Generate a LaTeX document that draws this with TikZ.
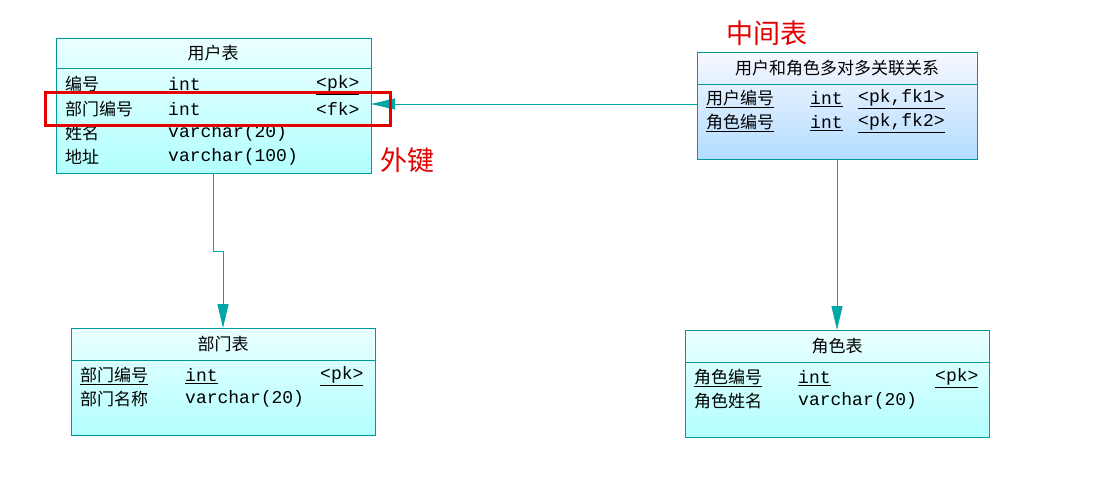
\documentclass[tikz,border=0pt]{standalone}
\usepackage{fontspec}
\newfontfamily\cjk{Noto Sans CJK SC}
\newfontfamily\lt{Liberation Mono}
\usetikzlibrary{arrows.meta}
\tikzset{
 tbl/.style={draw=teal!80!cyan, line width=0.6pt, top color=cyan!8, bottom color=cyan!30},
 tblb/.style={draw=teal!80!cyan, line width=0.6pt, top color=blue!3!white, bottom color=blue!45!cyan!30},
 sep/.style={draw=teal!80!cyan, line width=0.6pt},
 txt/.style={anchor=west, inner sep=0pt, font=\cjk\fontsize{17}{19}\selectfont},
 hdr/.style={inner sep=0pt, font=\cjk\fontsize{17}{19}\selectfont},
 conn/.style={draw=teal!70!cyan, line width=0.9pt},
 tip/.style={-{Triangle[length=24pt,width=11pt,fill=teal!70!cyan]}},
}
\newcommand{\ul}[1]{\underline{#1}}
\newcommand{\Lt}[1]{{\lt\fontsize{18}{19}\selectfont #1}}
\begin{document}
\begin{tikzpicture}[x=1pt,y=-1pt]
\useasboundingbox (0,0) rectangle (1119,495);
% user table
\path[tbl] (56,38) rectangle (371,173);
\draw[sep] (56,68) -- (371,68);
\node[hdr] (uh) at (213,53) {用户表};
\node[txt] (u1) at (65,85) {\ul{编号}}; \node[txt] at (168,85) {\ul{\Lt{int}}}; \node[txt] at (316,85) {\ul{\Lt{<pk>}}};
\node[txt] (u2) at (65,109) {部门编号}; \node[txt] at (168,109) {\Lt{int}}; \node[txt] at (316,109) {\Lt{<fk>}};
\node[txt] at (65,133) {姓名}; \node[txt] at (168,133) {\Lt{varchar(20)}};
\node[txt] at (65,157) {地址}; \node[txt] at (168,157) {\Lt{varchar(100)}};
\coordinate (uR) at (371,104);
\coordinate (uB) at (213,173);
% dept table
\path[tbl] (71,328) rectangle (375,435);
\draw[sep] (71,360) -- (375,360);
\node[hdr] (dh) at (223,344) {部门表};
\node[txt] at (80,376) {\ul{部门编号}}; \node[txt] at (185,376) {\ul{\Lt{int}}}; \node[txt] at (320,376) {\ul{\Lt{<pk>}}};
\node[txt] at (80,399) {部门名称}; \node[txt] at (185,399) {\Lt{varchar(20)}};
\coordinate (dT) at (223,328);
% middle table
\path[tblb] (697,52) rectangle (977,159);
\draw[sep] (697,84) -- (977,84);
\node[hdr] (mh) at (837,68) {用户和角色多对多关联关系};
\node[txt] at (706,99) {\ul{用户编号}}; \node[txt] at (810,99) {\ul{\Lt{int}}}; \node[txt] at (858,99) {\ul{\Lt{<pk,fk1>}}};
\node[txt] at (706,123) {\ul{角色编号}}; \node[txt] at (810,123) {\ul{\Lt{int}}}; \node[txt] at (858,123) {\ul{\Lt{<pk,fk2>}}};
\coordinate (mL) at (697,104);
\coordinate (mB) at (837,159);
% role table
\path[tbl] (685,330) rectangle (989,437);
\draw[sep] (685,362) -- (989,362);
\node[hdr] (rh) at (837,346) {角色表};
\node[txt] at (694,378) {\ul{角色编号}}; \node[txt] at (798,378) {\ul{\Lt{int}}}; \node[txt] at (935,378) {\ul{\Lt{<pk>}}};
\node[txt] at (694,401) {角色姓名}; \node[txt] at (798,401) {\Lt{varchar(20)}};
\coordinate (rT) at (837,330);
% connectors
\draw[conn,tip] (mL) -- (uR);
\draw[conn,tip] (uB) -- (213,251) -- (223,251) -- (dT);
\draw[conn,tip] (mB) -- (rT);
% annotations
\draw[red!90!black, line width=3pt] (45,92) rectangle (390,125);
\node[font=\cjk\fontsize{27}{29}\selectfont, text=red!90!black, inner sep=0pt] (wj) at (407,160) {外键};
\node[font=\cjk\fontsize{27}{29}\selectfont, text=red!90!black, inner sep=0pt] (zj) at (767,33) {中间表};
\end{tikzpicture}
\end{document}
